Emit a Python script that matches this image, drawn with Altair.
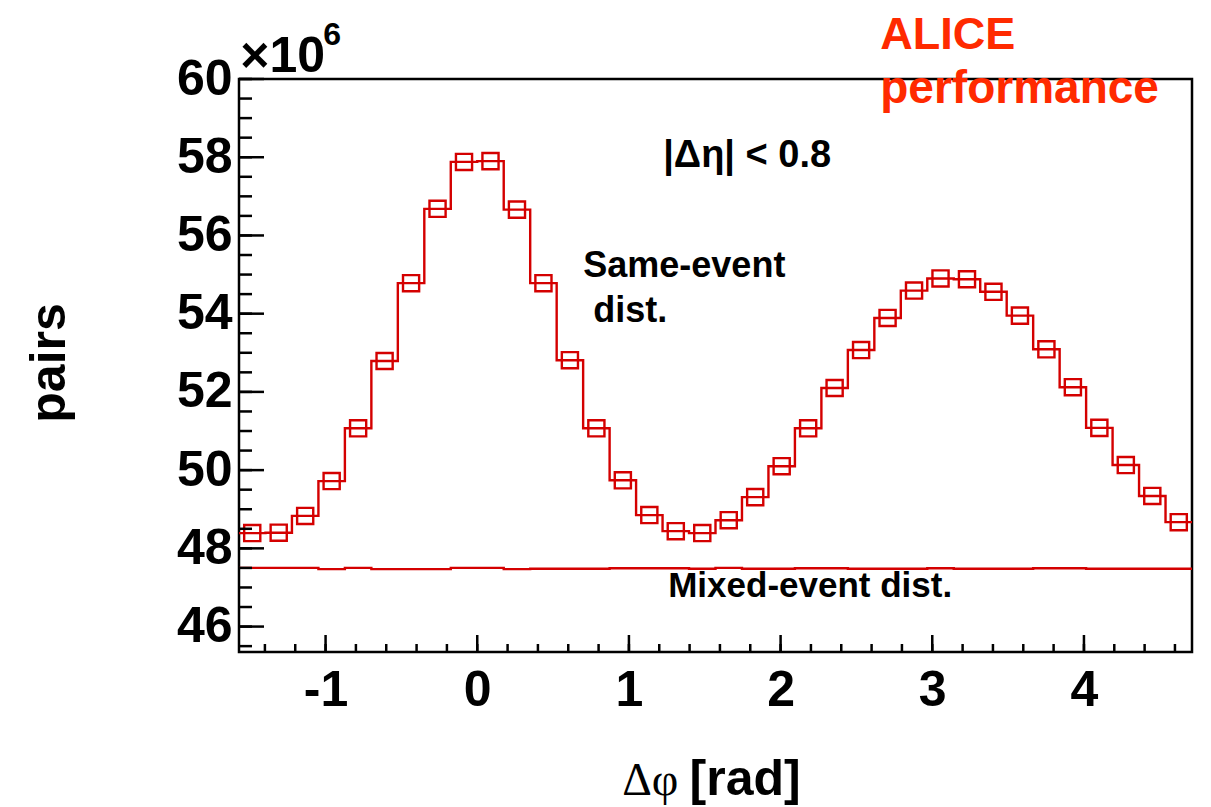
import altair as alt
import numpy as np
import pandas as pd

PI = np.pi
RED = "#d40000"
ALICE_RED = "#ff2a00"
FONT = "Liberation Sans"

# ---- data (units of 10^6 pairs) ----
n_bins = 36
same_event = [48.39, 48.40, 48.83, 49.72, 51.07, 52.79, 54.78, 56.68, 57.88, 57.90,
              56.66, 54.78, 52.81, 51.07, 49.74, 48.85, 48.44, 48.39, 48.72, 49.31,
              50.10, 51.07, 52.10, 53.07, 53.89, 54.59, 54.90, 54.88, 54.56, 53.95,
              53.09, 52.12, 51.08, 50.13, 49.34, 48.67]
mixed_event = [47.50, 47.50, 47.50, 47.47, 47.50, 47.47, 47.47, 47.47, 47.50, 47.50,
               47.47, 47.48, 47.48, 47.48, 47.49, 47.49, 47.49, 47.48, 47.50, 47.48,
               47.48, 47.49, 47.49, 47.48, 47.48, 47.48, 47.49, 47.48, 47.48, 47.48,
               47.49, 47.49, 47.48, 47.48, 47.48, 47.48]

x_tick_labels = [-1, 0, 1, 2, 3, 4]
y_tick_labels = [46, 48, 50, 52, 54, 56, 58, 60]
x_minor = [round(-1.4 + 0.2 * i, 2) for i in range(31)]
y_minor = [45.5 + 0.5 * i for i in range(30)]

bin_width = 2 * PI / n_bins
edges = [-PI / 2 + i * bin_width for i in range(n_bins + 1)]
centers = [-PI / 2 + (i + 0.5) * bin_width for i in range(n_bins)]

xs = alt.Scale(domain=[-PI / 2, 3 * PI / 2], nice=False, zero=False)
ys = alt.Scale(domain=[45.35, 60], nice=False, zero=False)

W, H = 953, 573

xaxis = alt.Axis(values=x_tick_labels, ticks=False, domain=False, grid=False,
                 labelFont=FONT, labelFontSize=50, labelFontWeight="bold",
                 labelColor="black", labelPadding=13, labelFlush=False,
                 labelOverlap=False, title=None,
                 labelExpr="datum.value < 0 ? '-' + format(-datum.value, 'd') : format(datum.value, 'd')")
yaxis = alt.Axis(values=y_tick_labels, ticks=False, domain=False, grid=False,
                 labelFont=FONT, labelFontSize=50, labelFontWeight="bold",
                 labelColor="black", labelPadding=7, labelFlush=False,
                 labelOverlap=False, title=None, format="d")

same_df = pd.DataFrame({"phi": edges, "pairs": same_event + [same_event[-1]]})
mixed_df = pd.DataFrame({"phi": edges, "pairs": mixed_event + [mixed_event[-1]]})
pts_df = pd.DataFrame({"phi": centers, "pairs": same_event})

X = lambda: alt.X("phi:Q", scale=xs)
Y = lambda: alt.Y("pairs:Q", scale=ys)

same_line = alt.Chart(same_df).mark_line(
    interpolate="step-after", color=RED, strokeWidth=2.4
).encode(x=alt.X("phi:Q", scale=xs, axis=xaxis),
         y=alt.Y("pairs:Q", scale=ys, axis=yaxis))

mixed_line = alt.Chart(mixed_df).mark_line(
    interpolate="step-after", color=RED, strokeWidth=2.4
).encode(x=X(), y=Y())

markers = alt.Chart(pts_df).mark_point(
    shape="square", filled=False, size=260, strokeWidth=2.4, color=RED, opacity=1
).encode(x=X(), y=Y())

# ---- inward ticks ----
def yticks(vals, length):
    return alt.Chart(pd.DataFrame({"pairs": vals})).mark_rule(
        color="black", strokeWidth=2.5
    ).encode(y=Y(), x=alt.value(0), x2=alt.value(length))

def xticks(vals, length):
    return alt.Chart(pd.DataFrame({"phi": vals})).mark_rule(
        color="black", strokeWidth=2.5
    ).encode(x=X(), y=alt.value(H), y2=alt.value(H - length))

ticks = [yticks(y_tick_labels, 25), yticks(y_minor, 13),
         xticks(x_tick_labels, 17), xticks(x_minor, 8)]

# ---- text annotations (positions in data coordinates) ----
def label(text, x, y, size, color="black", weight="bold", font=FONT,
          align="left", baseline="alphabetic", angle=0):
    df = pd.DataFrame({"phi": [x], "pairs": [y], "t": [text]})
    return alt.Chart(df).mark_text(
        align=align, baseline=baseline, fontSize=size, fontWeight=weight,
        font=font, color=color, angle=angle
    ).encode(x=X(), y=Y(), text="t:N")

texts = [
    label("|Δη| < 0.8", 1.226, 57.75, 38),
    label("Same-event", 0.699, 54.94, 36),
    label("dist.", 0.765, 53.79, 36),
    label("Mixed-event dist.", 1.259, 46.75, 35),
    label("ALICE", 2.657, 60.77, 45, color=ALICE_RED),
    label("performance", 2.657, 59.39, 46, color=ALICE_RED),
    label("×10", -1.562, 60.18, 50),
    label("6", -1.015, 60.87, 32),
    label("Δφ", 0.956, 41.70, 46, weight="normal", font="Liberation Serif"),
    label("[rad]", 1.40, 41.70, 50),
    label("pairs", -2.815, 52.74, 50, align="center", baseline="middle", angle=270),
]

chart = alt.layer(
    same_line, mixed_line, markers, *ticks, *texts
).properties(
    width=W, height=H,
    autosize=alt.AutoSizeParams(type="none"),
    padding={"left": 231, "top": 71, "right": 11, "bottom": 155},
    background="white",
).configure_view(stroke="black", strokeWidth=2.5)

chart.save("out.html", embed_options={"renderer": "svg", "actions": False})
